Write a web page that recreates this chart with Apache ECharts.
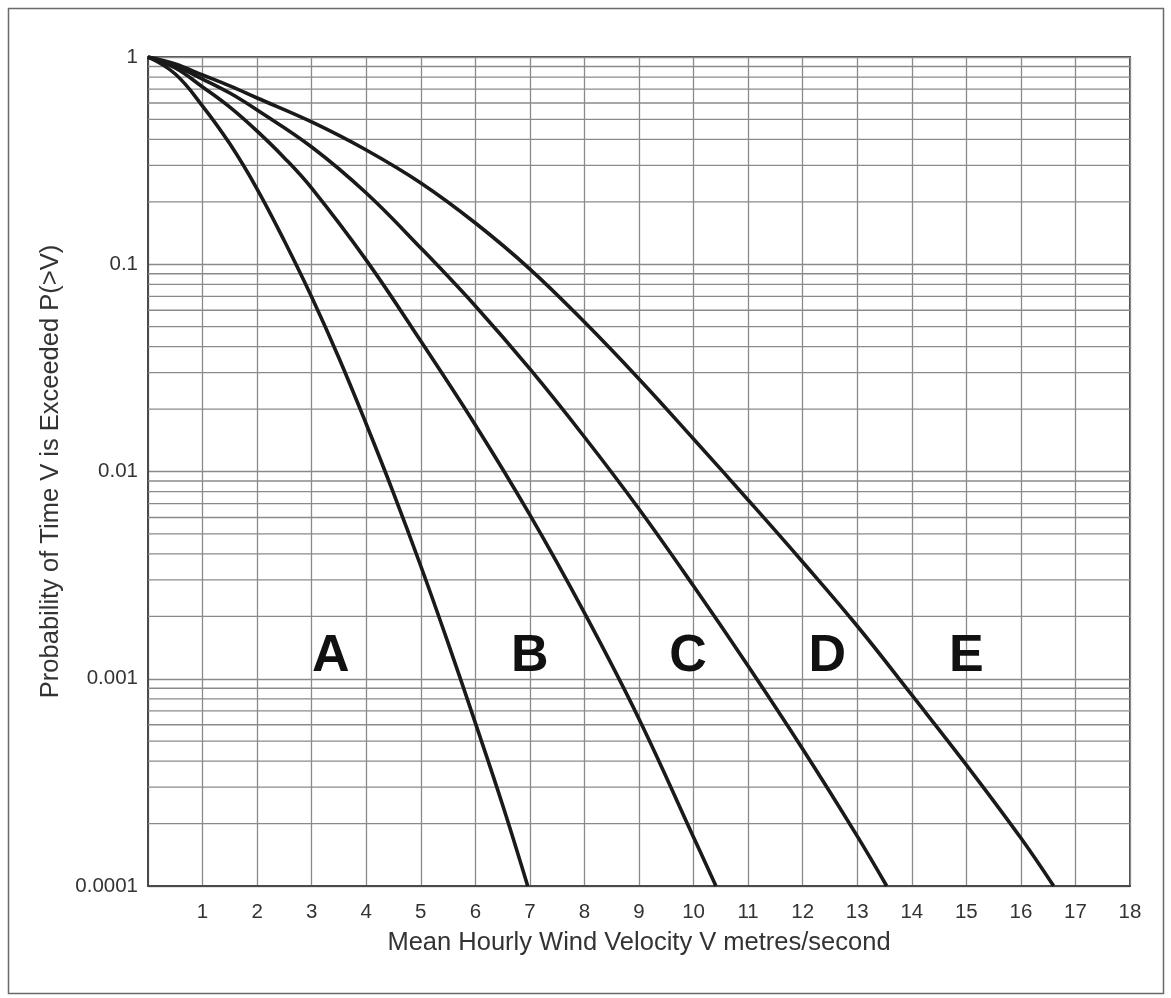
<!DOCTYPE html>
<html>
<head>
<meta charset="utf-8">
<script src="https://cdn.jsdelivr.net/npm/echarts@6/dist/echarts.min.js"></script>
<style>
  html, body { margin: 0; padding: 0; background: #ffffff; }
  #chart { width: 1171px; height: 998px; }
</style>
</head>
<body>
<div id="chart"></div>
<script>
// ---- data: [V m/s, P(>V)] ----
const curve1 = [[0,1],[0.5,0.828],[1,0.58],[1.5,0.381],[2,0.2307],[2.5,0.1295],[3,0.0695],[3.5,0.0353],[4,0.01695],[4.5,0.00787],[5,0.0035],[5.5,0.00149],[6,0.000612],[6.5,0.000246],[6.96,0.0001]];
const curve2 = [[0,1],[0.5,0.885],[1,0.717],[1.5,0.573],[2,0.439],[2.5,0.326],[3,0.2328],[4,0.1047],[5,0.0426],[6,0.01677],[7,0.00617],[8,0.002077],[9,0.00064],[10,0.000172],[10.41,0.0001]];
const curve3 = [[0,1],[0.5,0.905],[1,0.783],[1.5,0.67],[2,0.555],[3,0.368],[4,0.2207],[5,0.1198],[6,0.0629],[7,0.03124],[8,0.01467],[9,0.00659],[10,0.0028],[11,0.001152],[12,0.000458],[13,0.000174],[13.54,0.0001]];
const curve4 = [[0,1],[0.5,0.925],[1,0.819],[1.5,0.725],[2,0.634],[3,0.486],[4,0.3557],[5,0.2466],[6,0.1581],[7,0.0948],[8,0.0526],[9,0.02795],[10,0.01435],[11,0.00729],[12,0.00366],[13,0.001797],[14,0.000835],[15,0.000384],[16,0.0001704],[16.6,0.0001]];

const zoneLabels = ['A', 'B', 'C', 'D', 'E'];
const zoneX = [3.35, 7.0, 9.9, 12.45, 15.0];
const zoneY = 0.00128;

const xTickLabels = ['', '1','2','3','4','5','6','7','8','9','10','11','12','13','14','15','16','17','18'];
const yTickLabels = ['0.0001', '0.001', '0.01', '0.1', '1'];
const minorMultipliers = [2, 3, 4, 5, 6, 7, 8, 9];
const decades = [0.0001, 0.001, 0.01, 0.1];

const xTitle = 'Mean Hourly Wind Velocity V metres/second';
const yTitle = 'Probability of Time V is Exceeded P(>V)';

// ---- build options ----
const FONT = '"Liberation Sans", Arial, Helvetica, sans-serif';
const GRIDCOL = '#8a8a8a';
const minorValues = [];
decades.forEach(d => minorMultipliers.forEach(m => minorValues.push(+(d * m).toPrecision(3))));

const minorSeries = minorValues.map(v => ({
  type: 'line', data: [[0, v], [18, v]], showSymbol: false, symbol: 'none', silent: true,
  lineStyle: { color: GRIDCOL, width: 1.3 }, z: 1, emphasis: { disabled: true }
}));

function curveSeries(name, data) {
  return {
    name: name, type: 'line', data: data, smooth: 0.4, showSymbol: false, symbol: 'none',
    lineStyle: { color: '#1a1a1a', width: 3.6 }, z: 5, silent: true, clip: true
  };
}

const chart = echarts.init(document.getElementById('chart'), null, { renderer: 'canvas' });
chart.setOption({
  backgroundColor: '#ffffff',
  animation: false,
  textStyle: { fontFamily: FONT },
  graphic: [{
    type: 'rect', z: 0, silent: true,
    shape: { x: 8.5, y: 8.5, width: 1155, height: 985 },
    style: { fill: 'none', stroke: '#6a6a6a', lineWidth: 1.5 }
  }],
  grid: {
    left: 148, top: 57, right: 41, bottom: 112,
    show: true, borderColor: '#4a4a4a', borderWidth: 2, backgroundColor: 'transparent'
  },
  xAxis: {
    type: 'value', min: 0, max: 18, interval: 1,
    name: xTitle, nameLocation: 'middle', nameGap: 44,
    nameTextStyle: { fontSize: 25.5, color: '#333', fontFamily: FONT },
    axisLine: { show: true, lineStyle: { color: '#4a4a4a', width: 2 } },
    axisTick: { show: false },
    axisLabel: {
      margin: 16, fontSize: 20.5, color: '#333', fontFamily: FONT,
      formatter: v => xTickLabels[Math.round(v)] || ''
    },
    splitLine: { show: true, lineStyle: { color: GRIDCOL, width: 1.3 } }
  },
  yAxis: {
    type: 'log', logBase: 10, min: 0.0001, max: 1,
    name: yTitle, nameLocation: 'middle', nameGap: 84,
    nameTextStyle: { fontSize: 25.5, color: '#333', fontFamily: FONT },
    axisLine: { show: true, lineStyle: { color: '#4a4a4a', width: 2 } },
    axisTick: { show: false },
    axisLabel: {
      margin: 10, fontSize: 20.5, color: '#333', fontFamily: FONT,
      formatter: v => yTickLabels[Math.round(Math.log10(v)) + 4] || ''
    },
    splitLine: { show: true, lineStyle: { color: GRIDCOL, width: 1.3 } }
  },
  series: minorSeries.concat([
    curveSeries('1', curve1),
    curveSeries('2', curve2),
    curveSeries('3', curve3),
    curveSeries('4', curve4),
    {
      name: 'zones', type: 'scatter', symbolSize: 0.1, silent: true, z: 6,
      itemStyle: { color: '#ffffff', opacity: 1 },
      data: zoneLabels.map((t, i) => ({ name: t, value: [zoneX[i], zoneY] })),
      label: {
        show: true, position: 'inside', formatter: p => p.name, opacity: 1,
        fontSize: 52, fontWeight: 'bold', color: '#111111', textBorderWidth: 0,
        fontFamily: FONT
      }
    }
  ])
});
</script>
</body>
</html>
